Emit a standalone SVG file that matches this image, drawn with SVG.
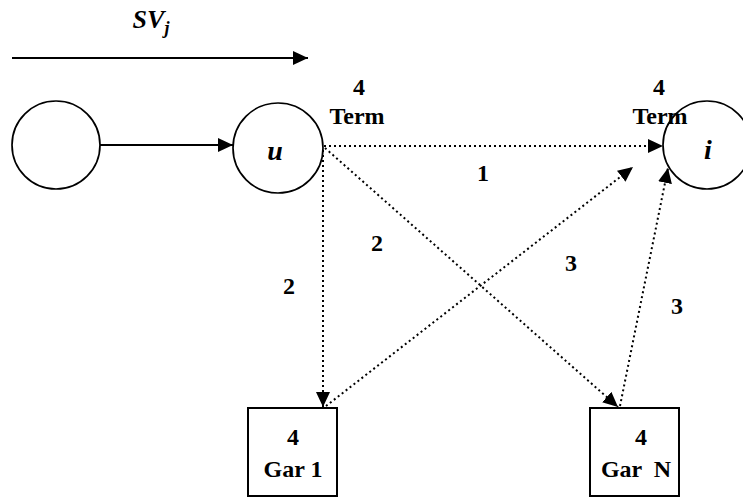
<svg xmlns="http://www.w3.org/2000/svg" width="743" height="498" viewBox="0 0 743 498">
  <style>
    .node { fill: #fff; stroke: #000; stroke-width: 1.7; }
    .box { fill: #fff; stroke: #000; stroke-width: 2; }
    .solid { stroke: #000; stroke-width: 2; fill: none; }
    .dot { stroke: #000; stroke-width: 2; fill: none; stroke-dasharray: 2 3; }
    .lbl { font-family: "Liberation Serif", "Times New Roman", serif; font-weight: bold; font-size: 24px; fill: #000; text-anchor: middle; }
    .var { font-family: "Liberation Serif", "Times New Roman", serif; font-weight: bold; font-style: italic; fill: #000; text-anchor: middle; }
  </style>
  <defs>
    <marker id="head" viewBox="0 0 15 14" refX="15" refY="7" markerWidth="15" markerHeight="14" markerUnits="userSpaceOnUse" orient="auto">
      <path d="M0,0 L15,7 L0,14 Z" fill="#000" stroke="none"/>
    </marker>
  </defs>

  <!-- flow direction -->
  <g id="direction">
    <line class="solid" x1="12" y1="58" x2="308" y2="58" marker-end="url(#head)"/>
    <text class="var" x="151" y="28" font-size="26">SV<tspan font-size="18" dy="6">j</tspan></text>
  </g>

  <!-- connectors -->
  <g id="connectors">
    <line class="solid" x1="100" y1="145" x2="233" y2="145" marker-end="url(#head)"/>
    <line class="dot" x1="324" y1="146" x2="663" y2="146" marker-end="url(#head)"/>
    <line class="dot" x1="323" y1="150" x2="323" y2="407" marker-end="url(#head)"/>
    <line class="dot" x1="325" y1="148" x2="618" y2="407" marker-end="url(#head)"/>
    <line class="dot" x1="326" y1="406" x2="633" y2="167" marker-end="url(#head)"/>
    <line class="dot" x1="620" y1="406" x2="668" y2="168" marker-end="url(#head)"/>
  </g>

  <!-- edge labels -->
  <g id="edge-labels">
    <text class="lbl" x="483" y="181">1</text>
    <text class="lbl" x="377" y="251">2</text>
    <text class="lbl" x="289" y="294">2</text>
    <text class="lbl" x="571" y="271">3</text>
    <text class="lbl" x="677" y="314">3</text>
  </g>

  <g id="node-prev">
    <circle class="node" cx="56" cy="145" r="44"/>
  </g>

  <g id="node-u">
    <circle class="node" cx="278" cy="148" r="45"/>
    <text class="var" x="275" y="160" font-size="28">u</text>
    <text class="lbl" x="359" y="95">4</text>
    <text class="lbl" x="357" y="124">Term</text>
  </g>

  <g id="node-i">
    <circle class="node" cx="707" cy="145" r="44"/>
    <text class="var" x="708" y="159" font-size="28">i</text>
    <text class="lbl" x="659" y="95">4</text>
    <text class="lbl" x="660" y="124">Term</text>
  </g>

  <g id="node-gar1">
    <rect class="box" x="248" y="408" width="89" height="88"/>
    <text class="lbl" x="293" y="445">4</text>
    <text class="lbl" x="293" y="477">Gar 1</text>
  </g>

  <g id="node-garN">
    <rect class="box" x="590" y="408" width="89" height="88"/>
    <text class="lbl" x="641" y="445">4</text>
    <text class="lbl" x="636" y="477" xml:space="preserve">Gar  N</text>
  </g>
</svg>
